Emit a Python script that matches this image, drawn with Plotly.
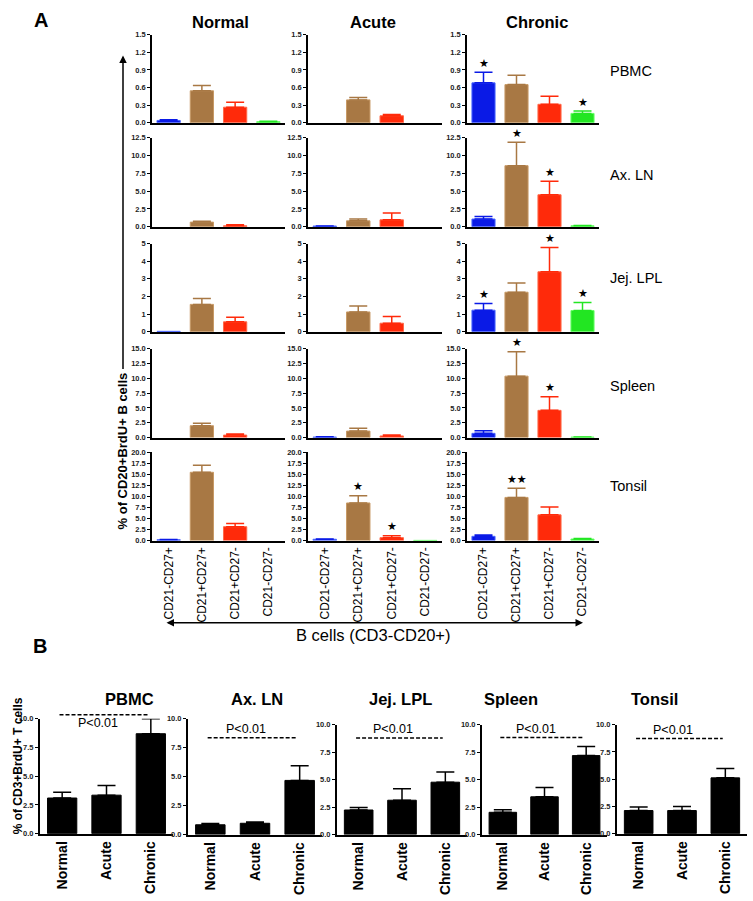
import plotly.graph_objects as go

W, H = 753, 901

# ---------------- data ----------------
subsets = ["CD21-CD27+", "CD21+CD27+", "CD21+CD27-", "CD21-CD27-"]
groups = ["Normal", "Acute", "Chronic"]
tissues = ["PBMC", "Ax. LN", "Jej. LPL", "Spleen", "Tonsil"]
subset_colors = ["#0a1ae6", "#a87844", "#ff2a0a", "#22e622"]
subset_edges = ["#4a66ff", "#c89a66", "#ff6a4a", "#66ff66"]

# panel A: means / sem per group (Normal, Acute, Chronic) x subset
pbmc_mean = [[0.04, 0.545, 0.265, 0.02], [0.0, 0.39, 0.12, 0.0], [0.68, 0.65, 0.315, 0.16]]
pbmc_sem = [[0.01, 0.09, 0.085, 0.005], [0.0, 0.04, 0.02, 0.0], [0.18, 0.16, 0.135, 0.04]]
axln_mean = [[0.0, 0.65, 0.14, 0.0], [0.1, 0.83, 0.97, 0.0], [1.08, 8.57, 4.49, 0.14]]
axln_sem = [[0.0, 0.13, 0.14, 0.0], [0.02, 0.27, 0.97, 0.0], [0.37, 3.27, 1.91, 0.05]]
jej_mean = [[0.02, 1.55, 0.56, 0.0], [0.0, 1.12, 0.48, 0.0], [1.22, 2.24, 3.40, 1.2]]
jej_sem = [[0.0, 0.34, 0.26, 0.0], [0.0, 0.34, 0.38, 0.0], [0.38, 0.52, 1.38, 0.45]]
spleen_mean = [[0.0, 2.0, 0.43, 0.0], [0.1, 1.1, 0.28, 0.0], [0.72, 10.35, 4.59, 0.1]]
spleen_sem = [[0.0, 0.44, 0.17, 0.0], [0.03, 0.46, 0.17, 0.0], [0.45, 4.1, 2.29, 0.02]]
tonsil_mean = [[0.2, 15.5, 3.15, 0.0], [0.3, 8.54, 0.67, 0.05], [0.97, 9.8, 5.84, 0.35]]
tonsil_sem = [[0.05, 1.6, 0.75, 0.0], [0.05, 1.66, 0.45, 0.0], [0.29, 2.1, 1.8, 0.1]]

# significance stars (count) per group x subset
pbmc_stars = [[0, 0, 0, 0], [0, 0, 0, 0], [1, 0, 0, 1]]
axln_stars = [[0, 0, 0, 0], [0, 0, 0, 0], [0, 1, 1, 0]]
jej_stars = [[0, 0, 0, 0], [0, 0, 0, 0], [1, 0, 1, 1]]
spleen_stars = [[0, 0, 0, 0], [0, 0, 0, 0], [0, 1, 1, 0]]
tonsil_stars = [[0, 0, 0, 0], [0, 1, 1, 0], [0, 2, 0, 0]]

a_ymax = [1.5, 12.5, 5, 15, 20]
a_dtick = [0.3, 2.5, 1, 2.5, 2.5]
a_tickfmt = [".1f", ".1f", "d", ".1f", ".1f"]

# panel B: T cells
b_normal = [3.1, 0.85, 2.24, 2.03, 2.12]
b_normal_sem = [0.5, 0.12, 0.23, 0.24, 0.33]
b_acute = [3.35, 0.98, 3.13, 3.44, 2.12]
b_acute_sem = [0.85, 0.12, 1.04, 0.84, 0.36]
b_chronic = [8.7, 4.68, 4.77, 7.19, 5.12]
b_chronic_sem = [1.3, 1.27, 0.93, 0.83, 0.85]
b_ymax = 10
p_line_y = [10.35, 8.36, 8.8, 8.83, 8.73]
p_text = "P<0.01"

a_means = [pbmc_mean, axln_mean, jej_mean, spleen_mean, tonsil_mean]
a_sems = [pbmc_sem, axln_sem, jej_sem, spleen_sem, tonsil_sem]
a_stars = [pbmc_stars, axln_stars, jej_stars, spleen_stars, tonsil_stars]

# ---------------- layout geometry (pixels) ----------------
a_cols = [(152, 285), (308, 442), (467, 599)]
a_rows = [(31, 120), (135, 225), (242, 331), (348, 438), (453, 542)]
b_cols = [(40, 173), (188, 322), (337, 467), (482, 607), (617, 747)]
b_rows = [(722, 838), (722, 839), (728, 839), (728, 839), (728, 838)]


def xdom(a, b):
    return [a / W, b / W]


def ydom(top, bottom):
    return [1 - bottom / H, 1 - top / H]


FONT = "Liberation Sans, Arial, Helvetica, sans-serif"
fig = go.Figure()
layout = {}
annotations = []
shapes = []

# ---------------- panel A ----------------
for r in range(5):
    for c in range(3):
        k = r * 3 + c + 1
        xa, ya = f"x{k}", f"y{k}"
        for s in range(4):
            m = a_means[r][c][s]
            e = a_sems[r][c][s]
            if m == 0 and e == 0:
                continue
            fig.add_trace(go.Bar(
                x=[subsets[s]], y=[m], width=0.7,
                marker=dict(color=subset_colors[s], line=dict(color=subset_edges[s], width=1)),
                error_y=dict(type="data", array=[e], arrayminus=[0], symmetric=False,
                             color=subset_colors[s], thickness=1.5, width=9,
                             visible=e > 0),
                xaxis=xa, yaxis=ya, showlegend=False, hoverinfo="skip"))
            n = a_stars[r][c][s]
            if n:
                annotations.append(dict(
                    x=subsets[s], y=m + e, xref=xa, yref=ya, text="★" * n,
                    showarrow=False, yshift=9, font=dict(size=11, color="black",
                                                          family="DejaVu Sans")))
        sfx = "" if k == 1 else str(k)
        layout["xaxis" + sfx] = dict(
            domain=xdom(*a_cols[c]), anchor=ya, type="category",
            categoryorder="array", categoryarray=subsets, range=[-0.5, 3.5],
            showline=True, linecolor="black", linewidth=1.5, ticks="",
            showticklabels=(r == 4), tickangle=-90,
            tickfont=dict(size=12, family=FONT, color="black"),
            showgrid=False, zeroline=False, fixedrange=True)
        layout["yaxis" + sfx] = dict(
            domain=ydom(*a_rows[r]), anchor=xa, range=[0, a_ymax[r]],
            tick0=0, dtick=a_dtick[r], tickformat=a_tickfmt[r],
            showline=True, linecolor="black", linewidth=1.5,
            ticks="outside", ticklen=3, tickwidth=1, tickcolor="black",
            tickfont=dict(size=7.5, family=FONT, color="#222", weight="bold"),
            showgrid=False, zeroline=False, fixedrange=True)

# ---------------- panel B ----------------
b_means = list(zip(b_normal, b_acute, b_chronic))
b_sems = list(zip(b_normal_sem, b_acute_sem, b_chronic_sem))
for t in range(5):
    k = 16 + t
    xa, ya = f"x{k}", f"y{k}"
    fig.add_trace(go.Bar(
        x=groups, y=list(b_means[t]), width=0.66,
        marker=dict(color="black", line=dict(color="black", width=1)),
        error_y=dict(type="data", array=list(b_sems[t]), arrayminus=[0, 0, 0],
                     symmetric=False, color="black", thickness=1.5, width=9),
        xaxis=xa, yaxis=ya, showlegend=False, hoverinfo="skip"))
    layout[f"xaxis{k}"] = dict(
        domain=xdom(*b_cols[t]), anchor=ya, type="category",
        categoryorder="array", categoryarray=groups, range=[-0.5, 2.5],
        showline=True, linecolor="black", linewidth=2, ticks="",
        tickangle=-90, tickfont=dict(size=14, family=FONT, color="black", weight="bold"),
        showgrid=False, zeroline=False, fixedrange=True)
    layout[f"yaxis{k}"] = dict(
        domain=ydom(*b_rows[t]), anchor=xa, range=[0, b_ymax],
        tick0=0, dtick=2.5, tickformat=".1f",
        showline=True, linecolor="black", linewidth=2,
        ticks="outside", ticklen=3, tickwidth=1, tickcolor="black",
        tickfont=dict(size=7.5, family=FONT, color="#222", weight="bold"),
        showgrid=False, zeroline=False, fixedrange=True)
    # P-value dashed line and label (axis-domain coordinates so nothing is clipped)
    yd = p_line_y[t] / b_ymax
    shapes.append(dict(type="line", xref=f"{xa} domain", yref=f"{ya} domain",
                       x0=0.5 / 3 - 0.02, x1=2.5 / 3 - 0.02, y0=yd, y1=yd,
                       line=dict(color="black", width=1.5, dash="4px,2px")))
    annotations.append(dict(x=1.3 / 3, y=yd, xref=f"{xa} domain", yref=f"{ya} domain",
                            text=p_text, showarrow=False, yanchor="middle",
                            xanchor="center", yshift=(-8 if t == 0 else 9),
                            font=dict(size=12.5, family=FONT, color="black")))
    annotations.append(dict(x=[103, 257, 400, 540, 680][t] / W, y=1 - 702 / H,
                            xref="paper", yref="paper", text=f"<b>{tissues[t]}</b>",
                            showarrow=False, yanchor="middle",
                            font=dict(size=16.5, family=FONT, color="black")))


def pa(x, y, text, size, angle=0, bold=False, xanchor="center"):
    annotations.append(dict(x=x / W, y=1 - y / H, xref="paper", yref="paper",
                            text=f"<b>{text}</b>" if bold else text, textangle=angle,
                            showarrow=False, xanchor=xanchor, yanchor="middle",
                            font=dict(size=size, family=FONT, color="black")))


pa(41, 16, "A", 20, bold=True)
pa(40, 648, "B", 20, bold=True)
for g, x in zip(groups, [220, 373, 537]):
    pa(x, 18, g, 16.5, bold=True)
for tname, y in zip(tissues, [68, 173, 277, 386, 487]):
    pa(608, y, tname, 14.5, xanchor="left")
pa(122, 452, "% of CD20+BrdU+ B cells", 13, angle=-90, bold=True)
pa(373, 637, "B cells (CD3-CD20+)", 16.5)
pa(18, 770, "% of CD3+BrdU+ T cells", 12, angle=-90, bold=True)

# arrows
annotations.append(dict(x=123 / W, y=1 - 52 / H, xref="paper", yref="paper", text="",
                        showarrow=True, ax=0, ay=315, arrowhead=2, arrowsize=1,
                        arrowwidth=1.5, arrowcolor="black"))
annotations.append(dict(x=583 / W, y=1 - 625 / H, xref="paper", yref="paper", text="",
                        showarrow=True, ax=-418, ay=0, arrowhead=2, startarrowhead=2,
                        arrowside="end+start", arrowsize=1, arrowwidth=1.5,
                        arrowcolor="black"))

fig.update_layout(
    width=W, height=H, margin=dict(l=0, r=0, t=0, b=0),
    paper_bgcolor="white", plot_bgcolor="white", barmode="overlay",
    font=dict(family=FONT, color="black"),
    annotations=annotations, shapes=shapes, **layout)

fig.write_html("out.html", config={"displayModeBar": False},
               post_script="document.body.style.margin='0';")
